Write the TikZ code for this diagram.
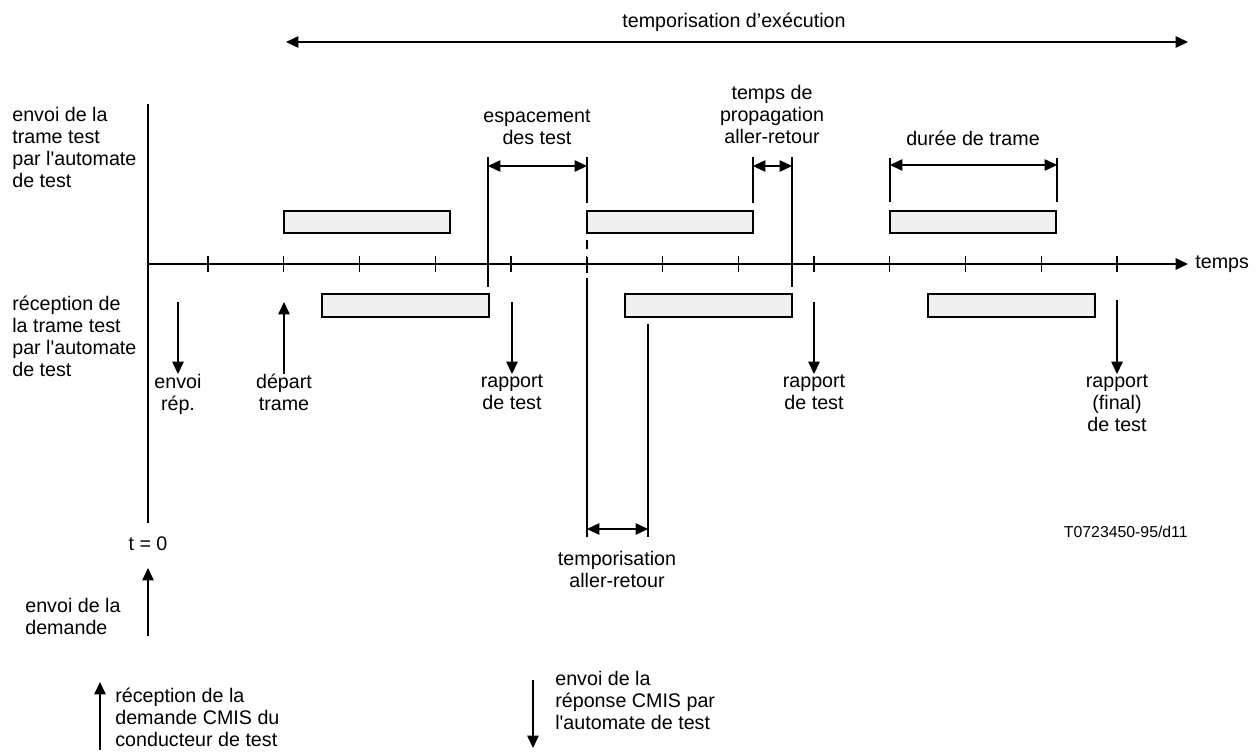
\documentclass[tikz,border=0pt]{standalone}
\usepackage{fontspec}
\setmainfont{Liberation Sans}[Ligatures=TeXOff]
\usetikzlibrary{arrows.meta}

\begin{document}
\begin{tikzpicture}
[
  x=0.02cm, y=-0.02cm,
  every node/.style={inner sep=0pt, font=\fontsize{11.2}{12.5}\selectfont},
  ln/.style={line width=0.65pt},
  arr/.style={line width=0.65pt, -{Triangle[length=7pt,width=6.5pt]}},
  dblarr/.style={line width=0.65pt, {Triangle[length=7pt,width=6.5pt]}-{Triangle[length=7pt,width=6.5pt]}},
  frame/.style={draw, line width=0.65pt, fill=black!6},
]
\useasboundingbox (0,0) rectangle (1260,751);

% axes
\coordinate (origin) at (148,264);
\coordinate (axtop) at (148,104);
\coordinate (axbot) at (148,523);
\coordinate (axend) at (1188,264);
\draw[ln] (axtop) -- (axbot);
\draw[arr] (origin) -- (axend);
\node[anchor=base west] (temps) at (1195,268) {temps};

\foreach \k in {0,...,12} {
  \pgfmathsetmacro{\tx}{208+75.75*\k}
  \draw[ln] (\tx,256) -- (\tx,272);
}

% frames
\foreach \bx in {284,587,890} \draw[frame] (\bx,211) rectangle ++(166,22);
\foreach \bx in {322,625,928} \draw[frame] (\bx,294) rectangle ++(167,23);

% execution timer
\coordinate (execa) at (286,42);
\coordinate (execb) at (1188,42);
\draw[dblarr] (execa) -- (execb);
\node[anchor=north] (exec) at (734,13) {temporisation d’exécution};

% side labels
\node[anchor=north west, align=left] (emis) at (12,107)
  {envoi de la\\trame test\\par l'automate\\de test};
\node[anchor=north west, align=left] (recep) at (12,296)
  {réception de\\la trame test\\par l'automate\\de test};

% guide lines
\draw[ln] (488,157) -- (488,287);
\draw[ln] (587,157) -- (587,203);
\draw[ln] (587,240) -- (587,249);
\draw[ln] (587,257) -- (587,273);
\draw[ln] (587,278) -- (587,537);
\draw[ln] (753,157) -- (753,203);
\draw[ln] (792,157) -- (792,287);
\draw[ln] (890,158) -- (890,202);
\draw[ln] (1057,158) -- (1057,202);
\draw[ln] (648,324) -- (648,537);

% spans
\draw[dblarr] (488,166) -- (587,166);
\node[anchor=north, align=center] (espace) at (537,109) {espacement\\des test};
\draw[dblarr] (753,166) -- (792,166);
\node[anchor=north, align=center] (propag) at (772,85) {temps de\\propagation\\aller-retour};
\draw[dblarr] (890,165) -- (1057,165);
\node[anchor=north] (duree) at (973,131) {durée de trame};
\draw[dblarr] (587,529) -- (648,529);
\node[anchor=north, align=center] (tempo) at (617,551) {temporisation\\aller-retour};

% events
\node[anchor=north, align=center] (envrep) at (178,374) {envoi\\rép.};
\draw[arr] (178,302) -- (envrep.north);
\node[anchor=north, align=center] (depart) at (284,374) {départ\\trame};
\draw[arr] (depart.north) -- (284,302);
\node[anchor=north, align=center] (rapa) at (512,374) {rapport\\de test};
\draw[arr] (512,302) -- (rapa.north);
\node[anchor=north, align=center] (rapb) at (814,374) {rapport\\de test};
\draw[arr] (814,302) -- (rapb.north);
\node[anchor=north, align=center] (rapc) at (1117,374) {rapport\\(final)\\de test};
\draw[arr] (1117,300) -- (rapc.north);

\node[anchor=base east, font=\fontsize{9}{11}\selectfont] (ref) at (1188,537) {T0723450-95/d11};

% request and response
\node[anchor=base] (tzero) at (148,550) {t = 0};
\node[anchor=north west, align=left] (demande) at (25,598) {envoi de la\\demande};
\draw[arr] (148,636) -- (148,568);
\coordinate (cmisin) at (100,750);
\draw[arr] (cmisin) -- (100,682);
\node[anchor=north west, align=left] (recdem) at (115,688)
  {réception de la\\demande CMIS du\\conducteur de test};
\coordinate (cmisout) at (533,680);
\draw[arr] (cmisout) -- (533,748);
\node[anchor=north west, align=left] (envrepcmis) at (555,671)
  {envoi de la\\réponse CMIS par\\l'automate de test};
\end{tikzpicture}
\end{document}
